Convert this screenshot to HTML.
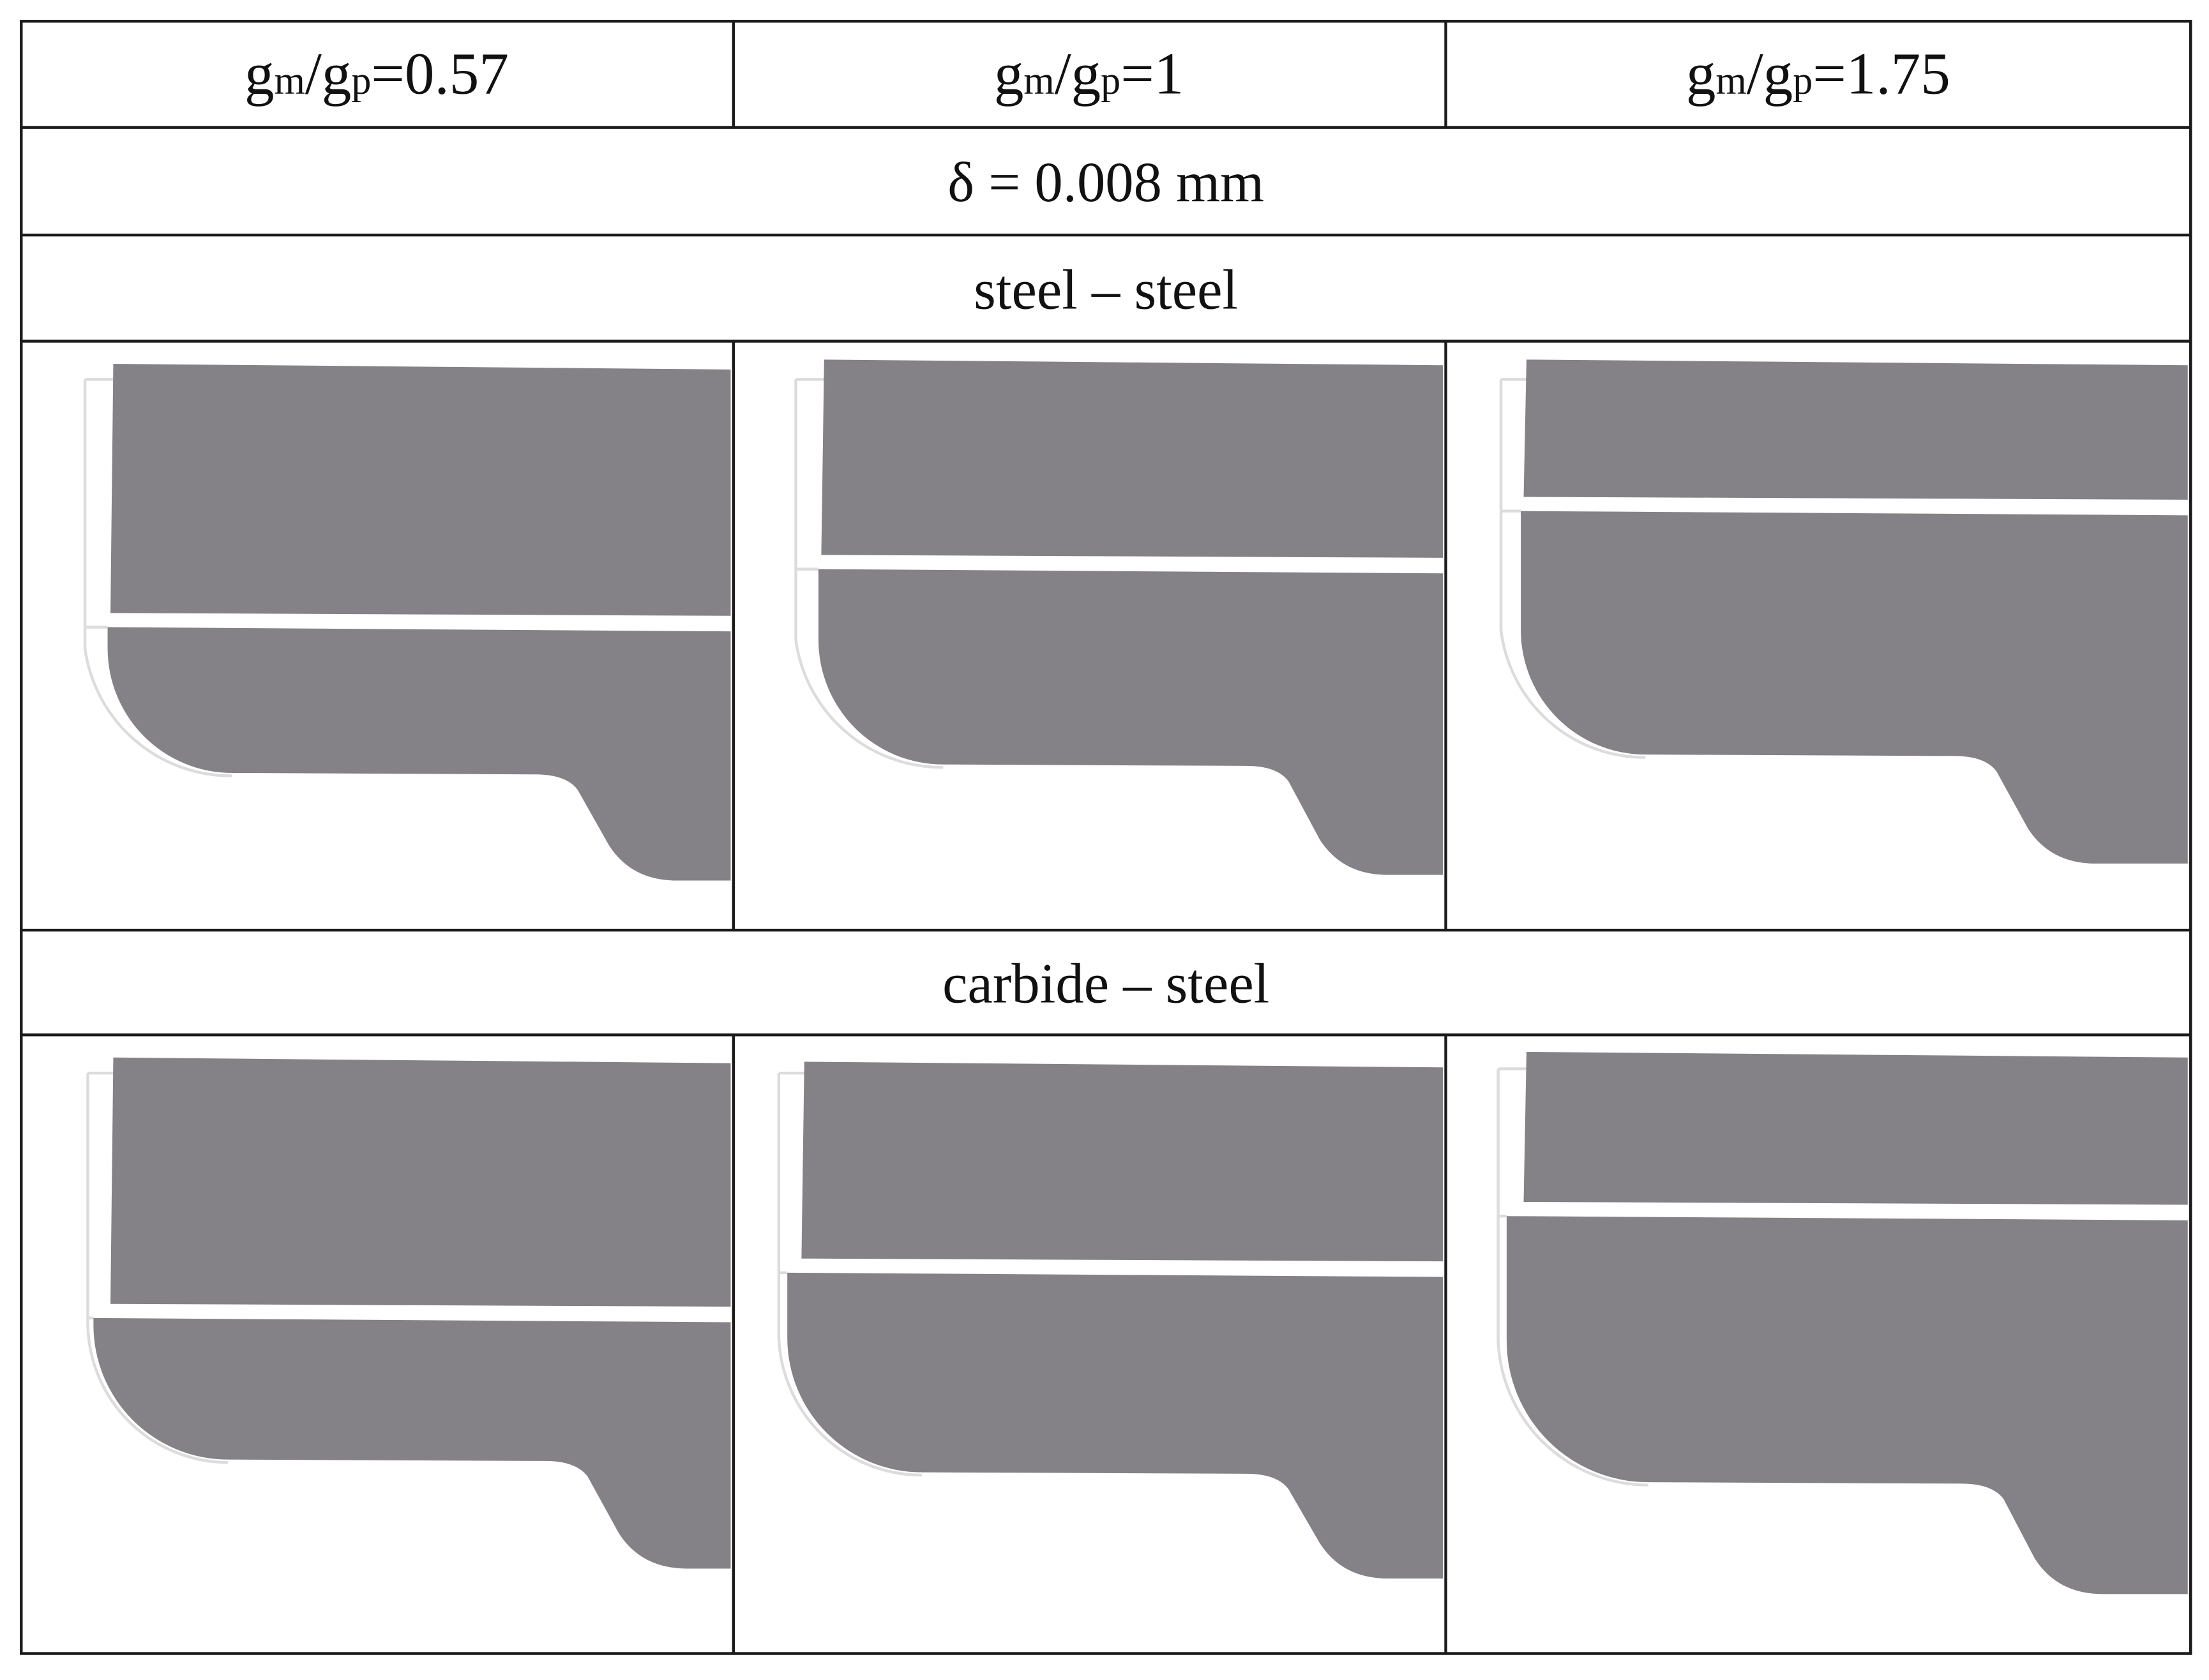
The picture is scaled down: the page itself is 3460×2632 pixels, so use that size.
<!DOCTYPE html>
<html><head><meta charset="utf-8"><style>
html,body{margin:0;padding:0;background:#fff;width:3460px;height:2632px;overflow:hidden}
svg{display:block}
text{font-family:"Liberation Serif",serif;fill:#111}
</style></head><body>
<svg id="s" width="3460" height="2632" viewBox="0 0 1560 1186.7" preserveAspectRatio="none">
<g id="shapes"></g>
<g stroke="#1a1a1a" stroke-width="2" fill="none">
<rect x="15" y="15" width="1532" height="1153"/>
<line x1="15" y1="90" x2="1547" y2="90"/>
<line x1="15" y1="166" x2="1547" y2="166"/>
<line x1="15" y1="241" x2="1547" y2="241"/>
<line x1="15" y1="657" x2="1547" y2="657"/>
<line x1="15" y1="731" x2="1547" y2="731"/>
<line x1="518" y1="15" x2="518" y2="90"/>
<line x1="1021" y1="15" x2="1021" y2="90"/>
<line x1="518" y1="241" x2="518" y2="657"/>
<line x1="1021" y1="241" x2="1021" y2="657"/>
<line x1="518" y1="731" x2="518" y2="1168"/>
<line x1="1021" y1="731" x2="1021" y2="1168"/>
</g>
<text x="266" y="66" font-size="42" text-anchor="middle">g<tspan font-size="28">m</tspan>/g<tspan font-size="28">p</tspan>=0.57</text>
<text x="769" y="66" font-size="42" text-anchor="middle">g<tspan font-size="28">m</tspan>/g<tspan font-size="28">p</tspan>=1</text>
<text x="1284" y="66" font-size="42" text-anchor="middle">g<tspan font-size="28">m</tspan>/g<tspan font-size="28">p</tspan>=1.75</text>
<text x="781" y="142" font-size="40" text-anchor="middle">δ = 0.008 mm</text>
<text x="781" y="218" font-size="40" text-anchor="middle">steel – steel</text>
<text x="781" y="708" font-size="40" text-anchor="middle">carbide – steel</text>
</svg>
<script>
var cells=[
 {L:80,Ll:76,ox:60,ot:268,top:257,div:439,bot:546,sx:378,nb:622,R:516,r:88},
 {L:582,Ll:578,ox:562,ot:268,top:254,div:398,bot:540,sx:880,nb:618,R:1019,r:88},
 {L:1078,Ll:1074,ox:1060,ot:268,top:254,div:357,bot:533,sx:1380,nb:610,R:1545,r:88},
 {L:80,Ll:66,ox:62,ot:758,top:747,div:927,bot:1031,sx:385,nb:1108,R:516,r:95},
 {L:568,Ll:556,ox:550,ot:758,top:750,div:895,bot:1040,sx:880,nb:1115,R:1019,r:95},
 {L:1078,Ll:1064,ox:1058,ot:755,top:743,div:855,bot:1047,sx:1385,nb:1126,R:1545,r:100}
];
var h='';
cells.forEach(function(c){
 var g='#848286';
 var d=c.Ll-c.ox;
 h+='<path d="M'+c.ox+','+c.ot+' L'+c.L+','+c.ot+' M'+c.ox+','+c.ot+' L'+c.ox+','+(c.bot-c.r)+' A'+(c.r+d)+','+(c.r+d)+' 0 0 0 '+(c.Ll+c.r)+','+(c.bot+2)+' M'+c.ox+','+(c.div+4)+' L'+c.Ll+','+(c.div+4)+'" stroke="#dcdcdc" stroke-width="2" fill="none"/>';
 h+='<path d="M'+c.L+','+c.top+' L'+c.R+','+(c.top+4)+' L'+c.R+','+(c.div-4)+' L'+(c.L-2)+','+(c.div-6)+' Z" fill="'+g+'"/>';
 h+='<path d="M'+c.Ll+','+(c.div+4)+' L'+c.R+','+(c.div+7)+' L'+c.R+','+c.nb+' L'+(c.sx+100)+','+c.nb+' Q'+(c.sx+68)+','+c.nb+' '+(c.sx+52)+','+(c.nb-25)+' L'+(c.sx+30)+','+(c.bot+12)+' Q'+(c.sx+22)+','+(c.bot+1)+' '+c.sx+','+(c.bot+1)+' L'+(c.Ll+c.r)+','+c.bot+' A'+c.r+','+c.r+' 0 0 1 '+c.Ll+','+(c.bot-c.r)+' Z" fill="'+g+'"/>';
});
document.getElementById('shapes').innerHTML=h;
</script>
</body></html>
